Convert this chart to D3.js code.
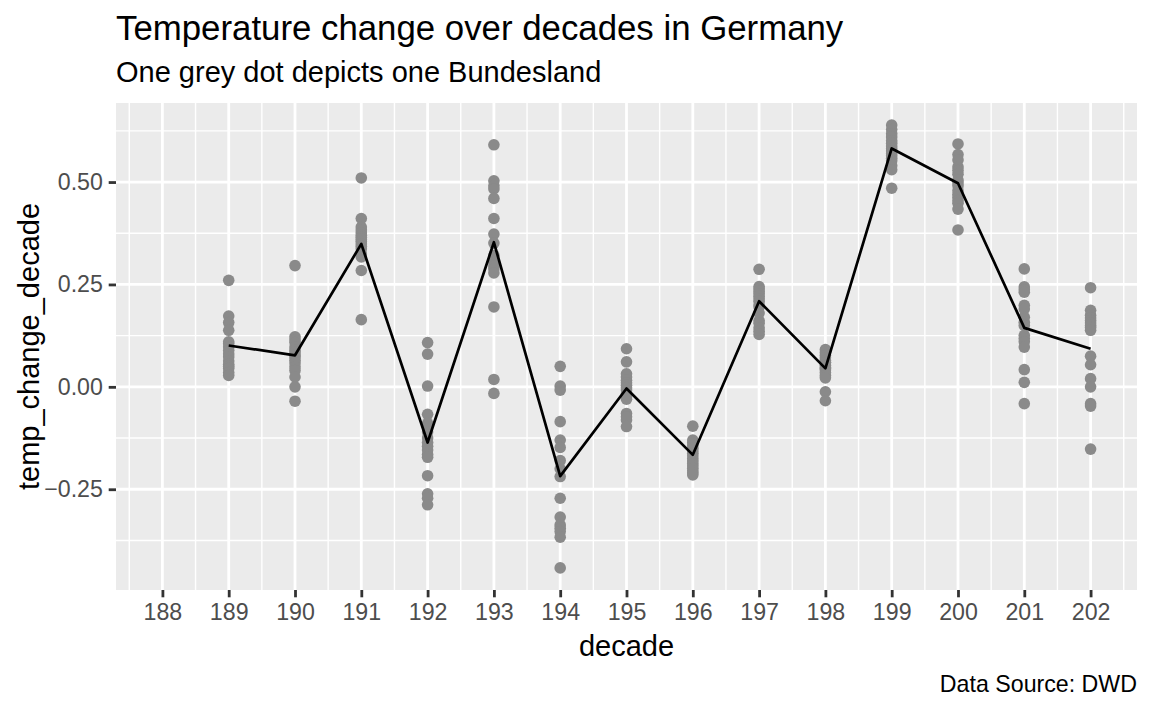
<!DOCTYPE html>
<html>
<head>
<meta charset="utf-8">
<script src="https://cdn.jsdelivr.net/npm/d3@7"></script>
<style>
  body { margin: 0; background: #fff; }
  svg { font-family: "Liberation Sans", Arial, Helvetica, sans-serif; display: block; }
</style>
</head>
<body>
<div class="chart"></div>
<script>
// decades (year / 10) shown on the x axis
const decades = [189, 190, 191, 192, 193, 194, 195, 196, 197, 198, 199, 200, 201, 202];
const xTickValues = [188, 189, 190, 191, 192, 193, 194, 195, 196, 197, 198, 199, 200, 201, 202];
const yTickValues = [-0.25, 0, 0.25, 0.5];

// black line: change for Germany as a whole
const germanyChange = [0.101, 0.077, 0.349, -0.136, 0.353, -0.218, -0.004, -0.166, 0.209, 0.045, 0.582, 0.497, 0.144, 0.093];

// grey dots: one value per Bundesland
const dots189 = [0.26, 0.173, 0.157, 0.138, 0.11, 0.105, 0.097, 0.089, 0.08, 0.073, 0.063, 0.055, 0.05, 0.045, 0.035, 0.028];
const dots190 = [0.296, 0.122, 0.115, 0.108, 0.097, 0.09, 0.085, 0.078, 0.073, 0.065, 0.058, 0.049, 0.04, 0.024, 0.0, -0.035];
const dots191 = [0.51, 0.411, 0.39, 0.383, 0.376, 0.37, 0.365, 0.36, 0.355, 0.349, 0.343, 0.337, 0.325, 0.317, 0.284, 0.164];
const dots192 = [0.108, 0.08, 0.002, -0.067, -0.089, -0.11, -0.125, -0.136, -0.145, -0.154, -0.165, -0.172, -0.217, -0.261, -0.272, -0.288];
const dots193 = [0.591, 0.503, 0.491, 0.483, 0.46, 0.411, 0.373, 0.351, 0.321, 0.304, 0.295, 0.288, 0.278, 0.195, 0.018, -0.016];
const dots194 = [0.05, 0.002, -0.008, -0.085, -0.13, -0.148, -0.18, -0.2, -0.219, -0.272, -0.318, -0.337, -0.345, -0.353, -0.367, -0.442];
const dots195 = [0.093, 0.061, 0.032, 0.024, 0.016, 0.01, 0.004, -0.002, -0.008, -0.016, -0.024, -0.03, -0.065, -0.073, -0.081, -0.097];
const dots196 = [-0.096, -0.13, -0.136, -0.143, -0.15, -0.156, -0.162, -0.168, -0.175, -0.181, -0.187, -0.193, -0.199, -0.205, -0.21, -0.215];
const dots197 = [0.287, 0.245, 0.239, 0.233, 0.227, 0.221, 0.215, 0.209, 0.2, 0.195, 0.18, 0.162, 0.155, 0.144, 0.136, 0.128];
const dots198 = [0.091, 0.084, 0.077, 0.071, 0.065, 0.06, 0.059, 0.053, 0.047, 0.045, 0.041, 0.035, 0.028, 0.022, -0.012, -0.034];
const dots199 = [0.639, 0.628, 0.618, 0.61, 0.601, 0.595, 0.588, 0.582, 0.576, 0.57, 0.564, 0.558, 0.552, 0.54, 0.53, 0.485];
const dots200 = [0.593, 0.567, 0.554, 0.537, 0.528, 0.519, 0.505, 0.498, 0.491, 0.479, 0.47, 0.463, 0.455, 0.448, 0.434, 0.383];
const dots201 = [0.288, 0.244, 0.237, 0.231, 0.199, 0.19, 0.17, 0.158, 0.15, 0.126, 0.118, 0.11, 0.097, 0.042, 0.011, -0.041];
const dots202 = [0.242, 0.187, 0.175, 0.168, 0.162, 0.156, 0.15, 0.145, 0.138, 0.075, 0.054, 0.02, 0.0, -0.041, -0.047, -0.152];

const dotsByDecade = [dots189, dots190, dots191, dots192, dots193, dots194, dots195,
                      dots196, dots197, dots198, dots199, dots200, dots201, dots202];

const width = 1152;
const height = 711;

// panel box
const panel = { left: 116, right: 1137, top: 103, bottom: 590 };

const svg = d3.select(".chart")
  .append("svg")
  .attr("width", width)
  .attr("height", height);

const x = d3.scaleLinear()
  .domain([187.3, 202.7])
  .range([panel.left, panel.right]);

const y = d3.scaleLinear()
  .domain([-0.496, 0.693])
  .range([panel.bottom, panel.top]);

// grey panel background
svg.append("rect")
  .attr("x", panel.left)
  .attr("y", panel.top)
  .attr("width", panel.right - panel.left)
  .attr("height", panel.bottom - panel.top)
  .attr("fill", "#EBEBEB");

// minor grid lines sit half way between the breaks
const xMinor = xTickValues.map(d => d - 0.5).concat([202.5]);
const yMinor = [-0.375, -0.125, 0.125, 0.375, 0.625];

const grid = svg.append("g").attr("stroke", "#FFFFFF");

grid.selectAll(".x-minor")
  .data(xMinor)
  .enter()
  .append("line")
  .attr("x1", d => x(d)).attr("x2", d => x(d))
  .attr("y1", panel.top).attr("y2", panel.bottom)
  .attr("stroke-width", 1.4);

grid.selectAll(".y-minor")
  .data(yMinor)
  .enter()
  .append("line")
  .attr("x1", panel.left).attr("x2", panel.right)
  .attr("y1", d => y(d)).attr("y2", d => y(d))
  .attr("stroke-width", 1.4);

grid.selectAll(".x-major")
  .data(xTickValues)
  .enter()
  .append("line")
  .attr("x1", d => x(d)).attr("x2", d => x(d))
  .attr("y1", panel.top).attr("y2", panel.bottom)
  .attr("stroke-width", 2.8);

grid.selectAll(".y-major")
  .data(yTickValues)
  .enter()
  .append("line")
  .attr("x1", panel.left).attr("x2", panel.right)
  .attr("y1", d => y(d)).attr("y2", d => y(d))
  .attr("stroke-width", 2.8);

// flatten dots into {decade, value}
const dots = [];
dotsByDecade.forEach((arr, i) => {
  arr.forEach(v => dots.push({ decade: decades[i], value: v }));
});

svg.append("g")
  .selectAll("circle")
  .data(dots)
  .enter()
  .append("circle")
  .attr("cx", d => x(d.decade))
  .attr("cy", d => y(d.value))
  .attr("r", 5.8)
  .attr("fill", "#8A8A8A");

// Germany line
const line = d3.line()
  .x((d, i) => x(decades[i]))
  .y(d => y(d));

svg.append("path")
  .datum(germanyChange)
  .attr("d", line)
  .attr("fill", "none")
  .attr("stroke", "#000000")
  .attr("stroke-width", 2.7)
  .attr("stroke-linejoin", "round");

// axes
const xAxis = d3.axisBottom(x)
  .tickValues(xTickValues)
  .tickFormat(d3.format("d"))
  .tickSize(7.3)
  .tickPadding(5.8);

const yAxis = d3.axisLeft(y)
  .tickValues(yTickValues)
  .tickFormat(d3.format(".2f"))
  .tickSize(7.3)
  .tickPadding(5.8);

const gx = svg.append("g")
  .attr("transform", `translate(0, ${panel.bottom})`)
  .call(xAxis);

const gy = svg.append("g")
  .attr("transform", `translate(${panel.left}, 0)`)
  .call(yAxis);

[gx, gy].forEach(g => {
  g.select(".domain").remove();
  g.selectAll(".tick line").attr("stroke", "#333333").attr("stroke-width", 2.8);
  g.selectAll(".tick text")
    .attr("fill", "#4D4D4D")
    .style("font-size", "23.2px")
    .style("font-family", "'Liberation Sans', Arial, sans-serif");
});

// titles
svg.append("text")
  .attr("x", panel.left)
  .attr("y", 40)
  .style("font-size", "34.8px")
  .attr("fill", "#000")
  .text("Temperature change over decades in Germany");

svg.append("text")
  .attr("x", panel.left)
  .attr("y", 81.5)
  .style("font-size", "29px")
  .attr("fill", "#000")
  .text("One grey dot depicts one Bundesland");

svg.append("text")
  .attr("x", (panel.left + panel.right) / 2)
  .attr("y", 656)
  .attr("text-anchor", "middle")
  .style("font-size", "29px")
  .attr("fill", "#000")
  .text("decade");

svg.append("text")
  .attr("transform", `translate(39, ${(panel.top + panel.bottom) / 2}) rotate(-90)`)
  .attr("text-anchor", "middle")
  .style("font-size", "29px")
  .attr("fill", "#000")
  .text("temp_change_decade");

svg.append("text")
  .attr("x", panel.right)
  .attr("y", 692)
  .attr("text-anchor", "end")
  .style("font-size", "23.2px")
  .attr("fill", "#000")
  .text("Data Source: DWD");
</script>
</body>
</html>
